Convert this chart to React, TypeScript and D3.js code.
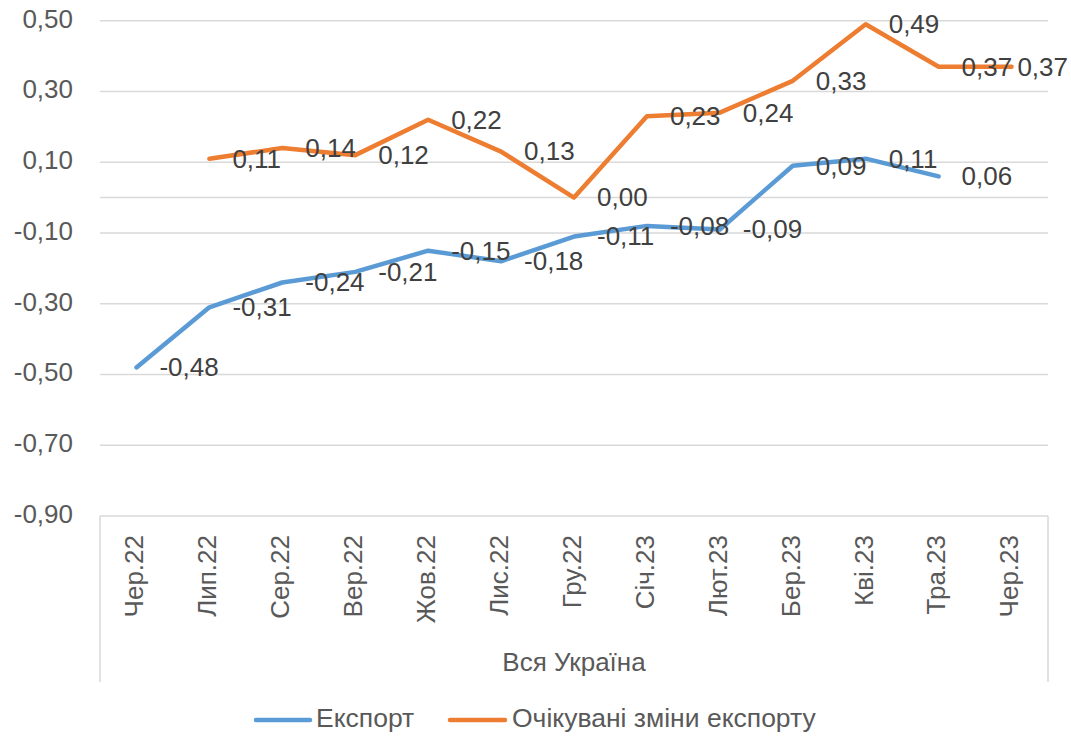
import React from 'react';
import * as d3 from 'd3';

// months on the category axis
const months = ['Чер.22', 'Лип.22', 'Сер.22', 'Вер.22', 'Жов.22', 'Лис.22', 'Гру.22', 'Січ.23', 'Лют.23', 'Бер.23', 'Кві.23', 'Тра.23', 'Чер.23'];

// series values (null = no point)
const exportValues: (number | null)[] = [-0.48, -0.31, -0.24, -0.21, -0.15, -0.18, -0.11, -0.08, -0.09, 0.09, 0.11, 0.06, null];
const expectedValues: (number | null)[] = [null, 0.11, 0.14, 0.12, 0.22, 0.13, 0.0, 0.23, 0.24, 0.33, 0.49, 0.37, 0.37];

const yTicks = [0.5, 0.3, 0.1, -0.1, -0.3, -0.5, -0.7, -0.9];

const axisTitle = 'Вся Україна';
const seriesNames = ['Експорт', 'Очікувані зміни експорту'];
const colors = ['#5B9BD5', '#ED7D31'];

const width = 1071;
const height = 736;
const font = '"Liberation Sans", Arial, sans-serif';
const textColor = '#595959';
const gridColor = '#D9D9D9';
const fs = 26;

const fmt = (v: number) => v.toFixed(2).replace('.', ',');

const App = () => {
  const x = d3.scaleBand<string>().domain(months).range([100, 1048]);
  const y = d3.scaleLinear().domain([-0.9, 0.5]).range([516, 20.7]);

  const cx = (m: string) => (x(m) ?? 0) + x.bandwidth() / 2;

  const line = d3
    .line<number | null>()
    .defined((d) => d !== null)
    .x((_, i) => cx(months[i]))
    .y((d) => y(d as number));

  const series = [exportValues, expectedValues];
  const labelW = 54;
  const rightEdge = 1068;

  return (
    <svg width={width} height={height} style={{ position: 'absolute', left: 0, top: 0 }} fontFamily={font}>
      <rect width={width} height={height} fill='white' />

      {/* gridlines */}
      {yTicks.map((t) => (
        <line key={t} x1={100} x2={1048} y1={y(t)} y2={y(t)} stroke={gridColor} strokeWidth={1.5} />
      ))}
      {/* horizontal axis line crossing at zero */}
      <line x1={100} x2={1048} y1={y(0)} y2={y(0)} stroke={gridColor} strokeWidth={1.5} />
      {/* category label box edges */}
      <line x1={100} x2={100} y1={516} y2={682} stroke={gridColor} strokeWidth={1.5} />
      <line x1={1048} x2={1048} y1={516} y2={682} stroke={gridColor} strokeWidth={1.5} />

      {/* y labels */}
      {yTicks.map((t) => (
        <text key={t} x={73} y={y(t)} textAnchor='end' dominantBaseline='middle' fontSize={fs} fill={textColor}>
          {fmt(t)}
        </text>
      ))}

      {/* x labels */}
      {months.map((m) => (
        <text
          key={m}
          transform={`translate(${cx(m)},535) rotate(-90)`}
          textAnchor='end'
          dominantBaseline='middle'
          fontSize={fs}
          fill={textColor}
        >
          {m}
        </text>
      ))}

      <text x={574} y={664} textAnchor='middle' dominantBaseline='middle' fontSize={fs} fill={textColor}>
        {axisTitle}
      </text>

      {/* lines */}
      {series.map((s, i) => (
        <path
          key={i}
          d={line(s) ?? ''}
          fill='none'
          stroke={colors[i]}
          strokeWidth={4.5}
          strokeLinecap='round'
          strokeLinejoin='round'
        />
      ))}

      {/* data labels, to the right of each point, kept inside the chart */}
      {series.map((s, i) =>
        s.map((v, j) => {
          if (v === null) return null;
          const px = cx(months[j]) + 23;
          const overflow = px + labelW > rightEdge;
          return (
            <text
              key={`${i}-${j}`}
              x={overflow ? rightEdge : px}
              y={y(v) + 2}
              textAnchor={overflow ? 'end' : 'start'}
              dominantBaseline='middle'
              fontSize={fs}
              fill='#404040'
            >
              {fmt(v)}
            </text>
          );
        })
      )}

      {/* legend */}
      <line x1={256} x2={310} y1={720} y2={720} stroke={colors[0]} strokeWidth={4.5} strokeLinecap='round' />
      <text x={316} y={720} dominantBaseline='middle' fontSize={26.5} fill={textColor}>
        {seriesNames[0]}
      </text>
      <line x1={450} x2={505} y1={720} y2={720} stroke={colors[1]} strokeWidth={4.5} strokeLinecap='round' />
      <text x={512} y={720} dominantBaseline='middle' fontSize={26.5} fill={textColor}>
        {seriesNames[1]}
      </text>
    </svg>
  );
};

export default App;
